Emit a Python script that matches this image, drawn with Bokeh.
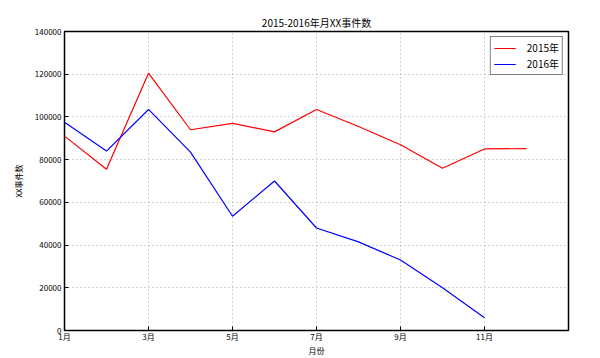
from bokeh.plotting import figure
from bokeh.models import Range1d, FixedTicker, Legend, LegendItem
from bokeh.embed import file_html
from bokeh.resources import INLINE

months = [1, 2, 3, 4, 5, 6, 7, 8, 9, 10, 11, 12]
tick_months = [1, 3, 5, 7, 9, 11]
tick_labels = ["1月", "3月", "5月", "7月", "9月", "11月"]
y_ticks = [0, 20000, 40000, 60000, 80000, 100000, 120000, 140000]
counts_2015 = [91000, 75500, 120500, 94000, 97000, 93000, 103500, 95500, 87000, 76000, 85000, 85200]
months_2016 = months[:11]
counts_2016 = [97500, 84000, 103500, 83500, 53500, 70000, 48000, 41500, 33000, 20000, 6000]

FONT = "Noto Sans CJK SC"

p = figure(width=600, height=358, output_backend="svg", toolbar_location=None,
           x_range=Range1d(1, 13), y_range=Range1d(0, 140000),
           min_border_left=64, min_border_right=32, min_border_top=31, min_border_bottom=20)

p.title.text = "2015-2016年月XX事件数"
p.title.align = "center"
p.title.text_font = FONT
p.title.text_font_size = "10px"
p.title.text_font_style = "normal"
p.title.text_color = "black"
p.title.offset = 0
p.title.standoff = 4

p.outline_line_color = "black"
p.outline_line_width = 1.5
p.background_fill_color = "white"
p.border_fill_color = "white"

for ax in (p.xaxis[0], p.yaxis[0]):
    ax.major_tick_in = 4
    ax.major_tick_out = 0
    ax.minor_tick_in = 0
    ax.minor_tick_out = 0
    ax.axis_line_color = "black"
    ax.major_label_text_font = FONT
    ax.major_label_text_font_size = "8px"
    ax.major_label_text_color = "black"
    ax.axis_label_text_font = FONT
    ax.axis_label_text_font_size = "8px"
    ax.axis_label_text_font_style = "normal"
    ax.axis_label_text_color = "black"

p.xaxis.ticker = FixedTicker(ticks=tick_months)
p.xaxis.major_label_overrides = {m: l for m, l in zip(tick_months, tick_labels)}
p.xaxis.axis_label = "月份"
p.xaxis.major_label_standoff = 0
p.xaxis.axis_label_standoff = 0

p.yaxis.ticker = FixedTicker(ticks=y_ticks)
p.yaxis.formatter.use_scientific = False
p.yaxis.axis_label = "XX事件数"
p.yaxis.major_label_standoff = 3
p.yaxis.axis_label_standoff = 8

p.xgrid.ticker = FixedTicker(ticks=tick_months)
p.ygrid.ticker = FixedTicker(ticks=y_ticks)
p.grid.grid_line_color = "#a8a8a8"
p.grid.grid_line_dash = "1 3"
p.grid.grid_line_width = 1

r1 = p.line(months, counts_2015, line_color="red", line_width=1.2)
r2 = p.line(months_2016, counts_2016, line_color="blue", line_width=1.2)

legend = Legend(items=[LegendItem(label="2015年", renderers=[r1]),
                       LegendItem(label="2016年", renderers=[r2])],
                location="top_right")
legend.label_text_font = FONT
legend.label_text_font_size = "10px"
legend.label_text_color = "black"
legend.border_line_color = "black"
legend.border_line_width = 1
legend.margin = 5
legend.padding = 3
legend.spacing = 1
legend.glyph_width = 22
legend.glyph_height = 14
legend.label_height = 14
legend.label_standoff = 11
p.add_layout(legend)

open("out.html", "w").write(file_html(p, INLINE))
